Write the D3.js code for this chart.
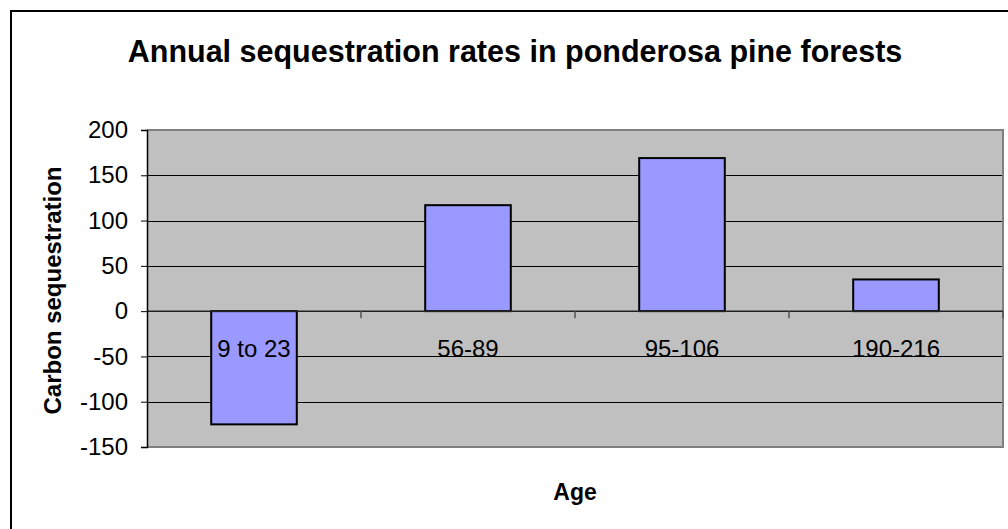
<!DOCTYPE html>
<html>
<head>
<meta charset="utf-8">
<script src="https://cdn.jsdelivr.net/npm/d3@7"></script>
<style>
    body { margin: 0; background: #fff; }
    svg { display: block; font-family: "Liberation Sans", Arial, sans-serif; }
</style>
</head>
<body>
<div id="chart"></div>
<script>
// Chart data
const categories = ["9 to 23", "56-89", "95-106", "190-216"];
const values = [-125, 117, 169, 35];
const yTicks = [-150, -100, -50, 0, 50, 100, 150, 200];
const gridValues = [-100, -50, 50, 100, 150];

const width = 1008;
const height = 529;

// Plot area
const plot = { left: 147, right: 1003, top: 130, bottom: 447 };

const svg = d3.select("#chart")
    .append("svg")
    .attr("width", width)
    .attr("height", height);

// Outer chart border (runs off the right and bottom edge)
svg.append("rect")
    .attr("x", 11)
    .attr("y", 11)
    .attr("width", 1100)
    .attr("height", 600)
    .attr("fill", "#fff")
    .attr("stroke", "#000")
    .attr("stroke-width", 2);

const x = d3.scaleBand()
    .domain(categories)
    .range([plot.left, plot.right])
    .paddingInner(0.6)
    .paddingOuter(0.3);

const y = d3.scaleLinear()
    .domain([-150, 200])
    .range([plot.bottom, plot.top]);

// Plot background
svg.append("rect")
    .attr("x", plot.left)
    .attr("y", plot.top)
    .attr("width", plot.right - plot.left)
    .attr("height", plot.bottom - plot.top)
    .attr("fill", "#c0c0c0");

// Gridlines
svg.selectAll(".grid")
    .data(gridValues)
    .enter()
    .append("line")
    .attr("class", "grid")
    .attr("x1", plot.left)
    .attr("x2", plot.right)
    .attr("y1", d => Math.round(y(d)) + 0.5)
    .attr("y2", d => Math.round(y(d)) + 0.5)
    .attr("stroke", "#000")
    .attr("stroke-width", 1);

// Plot border (top, right, bottom)
svg.append("path")
    .attr("d", `M${plot.left},${plot.top}H${plot.right}V${plot.bottom}H${plot.left}`)
    .attr("fill", "none")
    .attr("stroke", "#808080")
    .attr("stroke-width", 2);

// Bars
svg.selectAll(".bar")
    .data(values)
    .enter()
    .append("rect")
    .attr("class", "bar")
    .attr("x", (d, i) => x(categories[i]))
    .attr("width", x.bandwidth())
    .attr("y", d => y(Math.max(0, d)))
    .attr("height", d => Math.abs(y(d) - y(0)))
    .attr("fill", "#9999ff")
    .attr("stroke", "#000")
    .attr("stroke-width", 2);

// Category axis at zero, with ticks between categories
const step = x.step();
const boundaries = d3.range(categories.length + 1).map(i => x(categories[0]) - x.paddingOuter() * step + i * step);

svg.append("line")
    .attr("x1", plot.left)
    .attr("x2", plot.right)
    .attr("y1", y(0))
    .attr("y2", y(0))
    .attr("stroke", "#222")
    .attr("stroke-width", 1.5);

svg.selectAll(".xtick")
    .data(boundaries.slice(1))
    .enter()
    .append("line")
    .attr("class", "xtick")
    .attr("x1", d => d)
    .attr("x2", d => d)
    .attr("y1", y(0))
    .attr("y2", y(0) + 7)
    .attr("stroke", "#555")
    .attr("stroke-width", 1.5);

svg.selectAll(".xlabel")
    .data(categories)
    .enter()
    .append("text")
    .attr("class", "xlabel")
    .attr("x", d => x(d) + x.bandwidth() / 2)
    .attr("y", y(0) + 46)
    .attr("text-anchor", "middle")
    .style("font-size", "24px")
    .text(d => d);

// Value axis (plain hyphen for negatives, as in the original)
const yAxis = svg.append("g")
    .attr("transform", `translate(${plot.left},0)`)
    .call(d3.axisLeft(y).tickValues(yTicks).tickFormat(d => String(d)).tickSize(6).tickPadding(13));

yAxis.select(".domain").attr("stroke", "#000").attr("stroke-width", 1.5);
yAxis.selectAll(".tick line").attr("stroke", "#000").attr("stroke-width", 1);
yAxis.selectAll(".tick text")
    .style("font-size", "24px")
    .style("font-family", "'Liberation Sans', Arial, sans-serif")
    .attr("fill", "#000");

// Titles
svg.append("text")
    .attr("x", 515)
    .attr("y", 62)
    .attr("text-anchor", "middle")
    .style("font-size", "30.5px")
    .style("font-weight", "bold")
    .text("Annual sequestration rates in ponderosa pine forests");

svg.append("text")
    .attr("x", (plot.left + plot.right) / 2)
    .attr("y", 500)
    .attr("text-anchor", "middle")
    .style("font-size", "23px")
    .style("font-weight", "bold")
    .text("Age");

svg.append("text")
    .attr("transform", `translate(61,${(plot.top + plot.bottom) / 2 + 2}) rotate(-90)`)
    .attr("text-anchor", "middle")
    .style("font-size", "24px")
    .style("font-weight", "bold")
    .text("Carbon sequestration");
</script>
</body>
</html>
